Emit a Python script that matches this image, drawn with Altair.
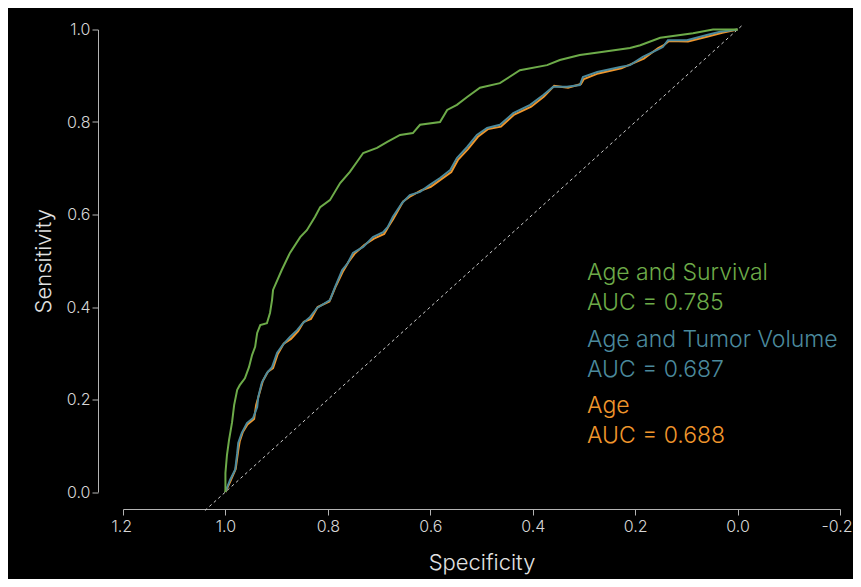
import altair as alt
import pandas as pd

# ---- data ----
green_spec = [1.0, 1.0, 0.997, 0.993, 0.987, 0.983, 0.977, 0.972, 0.962, 0.954, 0.948, 0.942,
              0.938, 0.932, 0.919, 0.913, 0.909, 0.907, 0.890, 0.874, 0.854, 0.841, 0.825, 0.815,
              0.796, 0.776, 0.757, 0.743, 0.731, 0.704, 0.684, 0.659, 0.634, 0.620, 0.581, 0.567,
              0.548, 0.528, 0.503, 0.464, 0.425, 0.372, 0.347, 0.308, 0.269, 0.210, 0.190, 0.151,
              0.087, 0.048, 0.0]
green_sens = [0.0, 0.041, 0.080, 0.112, 0.151, 0.188, 0.221, 0.231, 0.246, 0.270, 0.296, 0.314,
              0.344, 0.361, 0.365, 0.387, 0.415, 0.437, 0.480, 0.517, 0.551, 0.566, 0.595, 0.616,
              0.631, 0.668, 0.692, 0.714, 0.733, 0.744, 0.757, 0.772, 0.776, 0.794, 0.800, 0.826,
              0.837, 0.854, 0.874, 0.884, 0.912, 0.923, 0.934, 0.945, 0.951, 0.960, 0.966, 0.982,
              0.992, 1.0, 1.0]

blue_spec = [1.0, 0.991, 0.981, 0.977, 0.975, 0.968, 0.958, 0.946, 0.938, 0.936, 0.929, 0.919,
             0.909, 0.899, 0.888, 0.874, 0.860, 0.849, 0.835, 0.821, 0.796, 0.786, 0.772, 0.761,
             0.751, 0.731, 0.712, 0.692, 0.683, 0.673, 0.655, 0.640, 0.620, 0.601, 0.581, 0.561,
             0.548, 0.528, 0.509, 0.489, 0.464, 0.438, 0.405, 0.380, 0.360, 0.333, 0.308, 0.302,
             0.274, 0.229, 0.210, 0.185, 0.157, 0.146, 0.136, 0.099, 0.060, 0.034, 0.0]
blue_sens = [0.0, 0.026, 0.048, 0.084, 0.106, 0.128, 0.149, 0.160, 0.184, 0.205, 0.236, 0.257,
             0.270, 0.301, 0.318, 0.335, 0.350, 0.365, 0.378, 0.398, 0.415, 0.443, 0.480, 0.495,
             0.517, 0.530, 0.551, 0.562, 0.573, 0.595, 0.625, 0.642, 0.649, 0.664, 0.679, 0.696,
             0.722, 0.746, 0.772, 0.787, 0.794, 0.819, 0.837, 0.858, 0.876, 0.876, 0.880, 0.897,
             0.908, 0.919, 0.923, 0.941, 0.956, 0.962, 0.977, 0.977, 0.988, 0.995, 1.0]

orange_spec = [1.0, 0.990, 0.980, 0.975, 0.972, 0.966, 0.957, 0.944, 0.940, 0.934, 0.927, 0.917,
               0.907, 0.898, 0.886, 0.872, 0.858, 0.847, 0.833, 0.820, 0.797, 0.784, 0.770, 0.760,
               0.748, 0.729, 0.710, 0.690, 0.681, 0.672, 0.653, 0.638, 0.618, 0.599, 0.579, 0.559,
               0.546, 0.526, 0.507, 0.487, 0.462, 0.436, 0.403, 0.378, 0.358, 0.331, 0.306, 0.300,
               0.272, 0.227, 0.208, 0.183, 0.155, 0.144, 0.134, 0.097, 0.058, 0.030, 0.0]
orange_sens = [0.0, 0.024, 0.050, 0.090, 0.110, 0.130, 0.146, 0.158, 0.188, 0.212, 0.240, 0.260,
               0.268, 0.298, 0.321, 0.331, 0.348, 0.368, 0.374, 0.400, 0.412, 0.446, 0.478, 0.497,
               0.515, 0.534, 0.548, 0.558, 0.575, 0.591, 0.628, 0.640, 0.652, 0.660, 0.676, 0.692,
               0.718, 0.742, 0.768, 0.785, 0.790, 0.816, 0.833, 0.855, 0.878, 0.874, 0.882, 0.893,
               0.905, 0.916, 0.925, 0.937, 0.960, 0.966, 0.975, 0.974, 0.985, 0.993, 1.0]

diag_spec = [1.04, -0.01]
diag_sens = [-0.04, 1.01]

labels = ["Age and Survival", "AUC = 0.785", "Age and Tumor Volume", "AUC = 0.687",
          "Age", "AUC = 0.688"]
label_series = ["green", "green", "blue", "blue", "orange", "orange"]

x_ticks = [1.2, 1.0, 0.8, 0.6, 0.4, 0.2, 0.0, -0.2]
y_ticks = [0.0, 0.2, 0.4, 0.6, 0.8, 1.0]

# ---- styling ----
COLORS = {"green": "#6dab49", "blue": "#4b8a9d", "orange": "#f0962c"}
FONT = "Inter"
AXIS_COL = "#b4b4b4"
LABEL_COL = "#d6d6d6"

label_x = 0.294
label_y = [0.458, 0.394, 0.314, 0.249, 0.171, 0.106]

xscale = alt.Scale(domain=[-0.2, 1.2], reverse=True, nice=False, zero=False)
yscale = alt.Scale(domain=[0.0, 1.0], nice=False, zero=False)

xaxis = alt.Axis(values=x_ticks, offset=17, tickSize=6, labelPadding=3,
                 labelExpr="datum.value < 0 ? '-' + format(-datum.value, '.1f') : format(datum.value, '.1f')",
                 domainColor=AXIS_COL, tickColor=AXIS_COL, labelColor=LABEL_COL,
                 labelFont=FONT, labelFontSize=16, labelFontWeight=300,
                 labelFlush=True, labelFlushOffset=12,
                 title="Specificity", titleFont=FONT, titleFontSize=22, titleFontWeight=300,
                 titleColor="#e2e2e2", titlePadding=18, grid=False)
yaxis = alt.Axis(values=y_ticks, format=".1f", offset=25, tickSize=6, labelPadding=2,
                 domainColor=AXIS_COL, tickColor=AXIS_COL, labelColor=LABEL_COL,
                 labelFont=FONT, labelFontSize=16, labelFontWeight=300,
                 title="Sensitivity", titleFont=FONT, titleFontSize=22, titleFontWeight=300,
                 titleColor="#e2e2e2", titlePadding=10, grid=False, labelFlush=False)


def curve(spec, sens, key):
    df = pd.DataFrame({"spec": spec, "sens": sens, "i": range(len(spec))})
    return alt.Chart(df).mark_line(color=COLORS[key], strokeWidth=2, clip=False).encode(
        x=alt.X("spec:Q", scale=xscale, axis=xaxis),
        y=alt.Y("sens:Q", scale=yscale, axis=yaxis),
        order="i:Q",
    )


diag_df = pd.DataFrame({"spec": diag_spec, "sens": diag_sens})
diag = alt.Chart(diag_df).mark_line(color="#d0d0d0", strokeWidth=1, strokeDash=[3, 3]).encode(
    x=alt.X("spec:Q", scale=xscale, axis=xaxis),
    y=alt.Y("sens:Q", scale=yscale, axis=yaxis),
)

text_df = pd.DataFrame({"label": labels, "col": [COLORS[s] for s in label_series],
                        "spec": [label_x] * len(labels), "sens": label_y})
text = alt.Chart(text_df).mark_text(align="left", baseline="alphabetic", font=FONT,
                                    fontSize=23, fontWeight=300).encode(
    x=alt.X("spec:Q", scale=xscale, axis=xaxis),
    y=alt.Y("sens:Q", scale=yscale, axis=yaxis),
    text="label:N",
    color=alt.Color("col:N", scale=None),
)

chart = alt.layer(
    diag,
    curve(orange_spec, orange_sens, "orange"),
    curve(blue_spec, blue_sens, "blue"),
    curve(green_spec, green_sens, "green"),
    text,
).properties(
    width=717, height=462.5,
    autosize=alt.AutoSizeParams(type="none"),
    padding={"left": 115, "top": 21.5, "right": 13, "bottom": 87},
    background="black",
).configure_view(stroke=None)

chart.save("out.html", embed_options={"renderer": "svg", "actions": False})
